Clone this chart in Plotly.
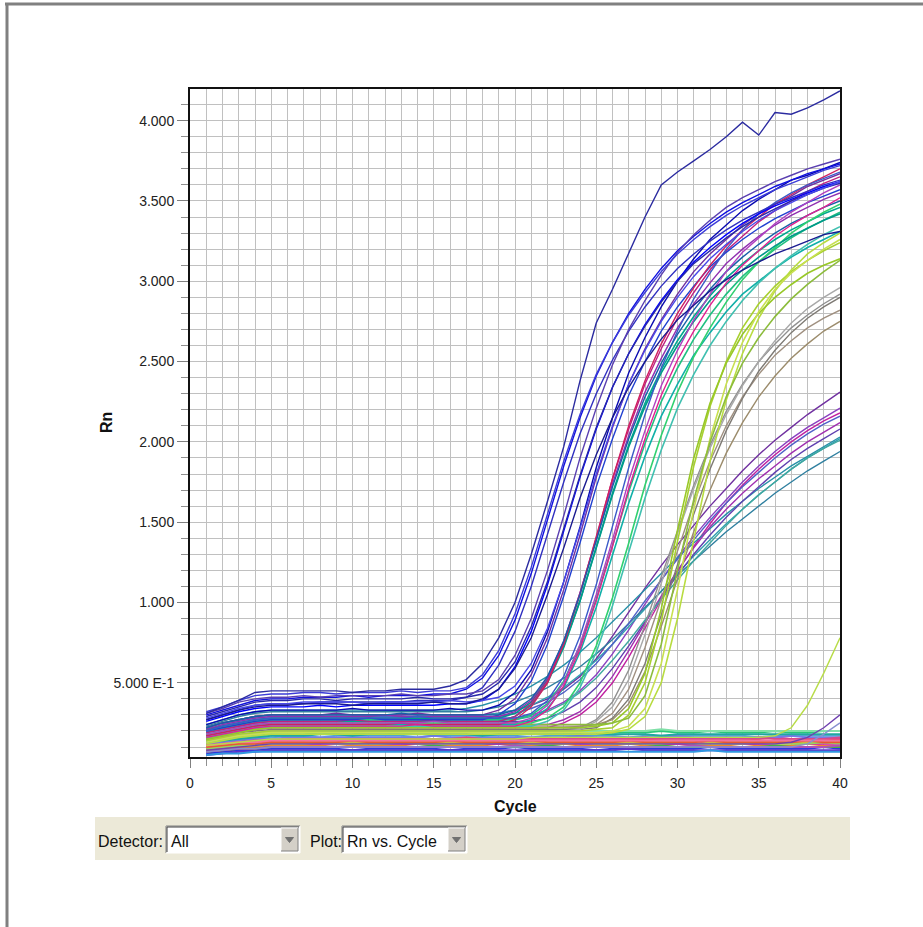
import plotly.graph_objects as go

# ---------------- data ----------------
CYCLES = [1, 2, 3, 4, 5, 6, 7, 8, 9, 10, 11, 12, 13, 14, 15, 16, 17, 18, 19, 20,
          21, 22, 23, 24, 25, 26, 27, 28, 29, 30, 31, 32, 33, 34, 35, 36, 37, 38, 39, 40]

X_TICKS = [0, 5, 10, 15, 20, 25, 30, 35, 40]
X_TICK_TEXT = ["0", "5", "10", "15", "20", "25", "30", "35", "40"]
Y_TICKS = [0.5, 1.0, 1.5, 2.0, 2.5, 3.0, 3.5, 4.0]
Y_TICK_TEXT = ["5.000 E-1", "1.000", "1.500", "2.000", "2.500", "3.000", "3.500", "4.000"]

OUTLIER_RN = [0.31, 0.35, 0.39, 0.44, 0.45, 0.45, 0.45, 0.45, 0.45, 0.44,
              0.45, 0.45, 0.46, 0.46, 0.46, 0.48, 0.52, 0.62, 0.78, 1.00,
              1.30, 1.63, 1.97, 2.38, 2.74, 2.95, 3.17, 3.40, 3.60, 3.68,
              3.75, 3.82, 3.90, 3.99, 3.91, 4.05, 4.04, 4.08, 4.13, 4.185]
OUTLIER_COLOR = "#2B2BA0"

EARLY_RN = [
    [0.30, 0.33, 0.36, 0.39, 0.40, 0.40, 0.41, 0.41, 0.41, 0.42, 0.41, 0.42, 0.42, 0.42, 0.43, 0.43, 0.46, 0.53, 0.67, 0.89,
     1.18, 1.51, 1.85, 2.15, 2.41, 2.62, 2.80, 2.95, 3.08, 3.19, 3.28, 3.36, 3.43, 3.49, 3.54, 3.59, 3.63, 3.67, 3.70, 3.73],
    [0.27, 0.30, 0.33, 0.36, 0.37, 0.37, 0.37, 0.38, 0.38, 0.38, 0.38, 0.38, 0.38, 0.39, 0.39, 0.39, 0.41, 0.47, 0.61, 0.82,
     1.10, 1.42, 1.75, 2.05, 2.30, 2.51, 2.69, 2.84, 2.97, 3.08, 3.17, 3.25, 3.32, 3.38, 3.43, 3.48, 3.52, 3.56, 3.60, 3.63],
    [0.31, 0.34, 0.38, 0.40, 0.41, 0.41, 0.42, 0.41, 0.42, 0.42, 0.42, 0.42, 0.43, 0.42, 0.42, 0.43, 0.43, 0.45, 0.52, 0.67,
     0.90, 1.20, 1.54, 1.90, 2.21, 2.48, 2.70, 2.88, 3.04, 3.18, 3.29, 3.38, 3.46, 3.52, 3.57, 3.62, 3.66, 3.70, 3.73, 3.76],
    [0.26, 0.29, 0.32, 0.34, 0.35, 0.35, 0.35, 0.36, 0.35, 0.36, 0.36, 0.36, 0.36, 0.36, 0.36, 0.37, 0.37, 0.39, 0.46, 0.60,
     0.82, 1.11, 1.44, 1.78, 2.08, 2.34, 2.55, 2.73, 2.88, 3.01, 3.12, 3.21, 3.29, 3.36, 3.42, 3.47, 3.51, 3.55, 3.59, 3.62],
    [0.29, 0.32, 0.35, 0.38, 0.39, 0.39, 0.40, 0.40, 0.39, 0.40, 0.40, 0.40, 0.40, 0.41, 0.40, 0.40, 0.41, 0.43, 0.50, 0.63,
     0.85, 1.13, 1.46, 1.79, 2.09, 2.34, 2.55, 2.72, 2.87, 3.00, 3.11, 3.19, 3.27, 3.34, 3.40, 3.45, 3.50, 3.54, 3.58, 3.61],
    [0.28, 0.31, 0.34, 0.36, 0.37, 0.37, 0.38, 0.38, 0.38, 0.38, 0.37, 0.38, 0.38, 0.38, 0.38, 0.39, 0.38, 0.39, 0.41, 0.48,
     0.62, 0.84, 1.13, 1.46, 1.80, 2.10, 2.36, 2.57, 2.75, 2.90, 3.03, 3.14, 3.23, 3.31, 3.38, 3.44, 3.49, 3.54, 3.58, 3.62],
    [0.27, 0.30, 0.33, 0.35, 0.36, 0.36, 0.37, 0.37, 0.37, 0.36, 0.37, 0.37, 0.37, 0.37, 0.38, 0.37, 0.37, 0.40, 0.46, 0.59,
     0.78, 1.05, 1.34, 1.65, 1.92, 2.15, 2.34, 2.50, 2.64, 2.76, 2.85, 2.94, 3.01, 3.07, 3.12, 3.17, 3.21, 3.25, 3.29, 3.31],
    [0.32, 0.35, 0.39, 0.42, 0.43, 0.43, 0.44, 0.44, 0.43, 0.44, 0.44, 0.44, 0.45, 0.44, 0.45, 0.45, 0.47, 0.55, 0.70, 0.93,
     1.22, 1.55, 1.88, 2.17, 2.42, 2.62, 2.79, 2.93, 3.06, 3.17, 3.26, 3.34, 3.41, 3.47, 3.52, 3.57, 3.61, 3.65, 3.69, 3.72],
]
EARLY_COLORS = ["#1010E0", "#3030C0", "#5A3FB0", "#0000FF", "#2828A8", "#4848E8", "#1A1A90", "#3C3CD8"]

MID_RN = [
    [0.22, 0.25, 0.27, 0.29, 0.30, 0.30, 0.30, 0.30, 0.31, 0.30, 0.30, 0.30, 0.30, 0.31, 0.30, 0.30, 0.30, 0.30, 0.33, 0.40,
     0.55, 0.78, 1.08, 1.42, 1.78, 2.09, 2.36, 2.58, 2.76, 2.92, 3.06, 3.17, 3.26, 3.35, 3.42, 3.48, 3.53, 3.59, 3.63, 3.67],
    [0.19, 0.21, 0.23, 0.25, 0.26, 0.26, 0.26, 0.26, 0.26, 0.27, 0.26, 0.26, 0.26, 0.26, 0.27, 0.26, 0.26, 0.26, 0.26, 0.29,
     0.37, 0.51, 0.75, 1.06, 1.40, 1.77, 2.08, 2.36, 2.58, 2.77, 2.93, 3.07, 3.19, 3.28, 3.37, 3.44, 3.50, 3.56, 3.61, 3.65],
    [0.20, 0.22, 0.24, 0.26, 0.27, 0.27, 0.27, 0.27, 0.27, 0.27, 0.28, 0.27, 0.27, 0.27, 0.27, 0.27, 0.27, 0.27, 0.30, 0.37,
     0.51, 0.74, 1.04, 1.37, 1.72, 2.02, 2.29, 2.50, 2.69, 2.84, 2.97, 3.09, 3.18, 3.26, 3.33, 3.39, 3.44, 3.49, 3.53, 3.57],
    [0.21, 0.24, 0.26, 0.28, 0.29, 0.29, 0.29, 0.29, 0.29, 0.29, 0.29, 0.30, 0.29, 0.29, 0.29, 0.29, 0.29, 0.29, 0.29, 0.32,
     0.39, 0.53, 0.76, 1.06, 1.39, 1.74, 2.04, 2.31, 2.52, 2.71, 2.86, 2.99, 3.11, 3.20, 3.28, 3.35, 3.41, 3.46, 3.51, 3.55],
    [0.17, 0.19, 0.21, 0.23, 0.24, 0.24, 0.24, 0.24, 0.24, 0.24, 0.24, 0.24, 0.25, 0.24, 0.24, 0.24, 0.24, 0.24, 0.24, 0.27,
     0.35, 0.50, 0.74, 1.05, 1.41, 1.77, 2.10, 2.38, 2.61, 2.80, 2.96, 3.10, 3.22, 3.32, 3.40, 3.48, 3.54, 3.60, 3.65, 3.70],
    [0.20, 0.23, 0.25, 0.27, 0.28, 0.28, 0.28, 0.28, 0.28, 0.28, 0.28, 0.28, 0.28, 0.29, 0.28, 0.28, 0.28, 0.28, 0.28, 0.28,
     0.31, 0.39, 0.54, 0.79, 1.11, 1.47, 1.84, 2.17, 2.46, 2.69, 2.89, 3.05, 3.20, 3.32, 3.42, 3.49, 3.55, 3.60, 3.64, 3.68],
    [0.22, 0.25, 0.27, 0.29, 0.30, 0.30, 0.30, 0.30, 0.30, 0.30, 0.30, 0.30, 0.31, 0.30, 0.30, 0.30, 0.30, 0.30, 0.30, 0.33,
     0.40, 0.54, 0.76, 1.05, 1.38, 1.72, 2.02, 2.28, 2.49, 2.67, 2.82, 2.95, 3.06, 3.15, 3.23, 3.30, 3.36, 3.41, 3.46, 3.50],
    [0.18, 0.20, 0.22, 0.24, 0.25, 0.25, 0.25, 0.25, 0.25, 0.25, 0.25, 0.25, 0.25, 0.25, 0.26, 0.25, 0.25, 0.25, 0.25, 0.25,
     0.28, 0.36, 0.50, 0.74, 1.05, 1.39, 1.76, 2.07, 2.35, 2.57, 2.76, 2.92, 3.06, 3.18, 3.27, 3.36, 3.43, 3.49, 3.55, 3.60],
    [0.24, 0.27, 0.30, 0.32, 0.33, 0.33, 0.33, 0.33, 0.33, 0.34, 0.33, 0.33, 0.33, 0.33, 0.33, 0.34, 0.33, 0.33, 0.36, 0.44,
     0.58, 0.82, 1.13, 1.47, 1.84, 2.15, 2.43, 2.65, 2.84, 3.00, 3.14, 3.26, 3.35, 3.44, 3.51, 3.57, 3.63, 3.66, 3.70, 3.74],
    [0.16, 0.18, 0.20, 0.22, 0.23, 0.23, 0.23, 0.23, 0.23, 0.23, 0.23, 0.23, 0.23, 0.24, 0.23, 0.23, 0.23, 0.23, 0.23, 0.23,
     0.26, 0.33, 0.48, 0.71, 1.01, 1.35, 1.71, 2.02, 2.29, 2.51, 2.69, 2.85, 2.99, 3.10, 3.19, 3.28, 3.35, 3.41, 3.46, 3.52],
]
MID_COLORS = ["#7030A0", "#C02080", "#2040D0", "#9030B0", "#D02060", "#3A5AC8", "#1860A8", "#B040C0", "#0A0AB0", "#E02090"]

TEAL_RN = [
    [0.19, 0.21, 0.23, 0.25, 0.26, 0.26, 0.26, 0.26, 0.26, 0.26, 0.26, 0.26, 0.26, 0.26, 0.26, 0.26, 0.26, 0.26, 0.26, 0.29,
     0.36, 0.50, 0.72, 1.01, 1.34, 1.68, 1.98, 2.24, 2.45, 2.63, 2.78, 2.91, 3.02, 3.11, 3.19, 3.26, 3.32, 3.37, 3.42, 3.46],
    [0.20, 0.22, 0.24, 0.26, 0.27, 0.27, 0.27, 0.27, 0.27, 0.27, 0.27, 0.27, 0.27, 0.27, 0.27, 0.27, 0.27, 0.27, 0.27, 0.27,
     0.30, 0.37, 0.51, 0.73, 1.02, 1.35, 1.69, 1.99, 2.25, 2.46, 2.64, 2.79, 2.92, 3.03, 3.12, 3.20, 3.27, 3.33, 3.38, 3.43],
    [0.17, 0.19, 0.21, 0.23, 0.24, 0.24, 0.24, 0.24, 0.24, 0.24, 0.24, 0.24, 0.24, 0.24, 0.24, 0.24, 0.24, 0.24, 0.24, 0.24,
     0.27, 0.34, 0.47, 0.69, 0.97, 1.29, 1.62, 1.91, 2.16, 2.36, 2.54, 2.68, 2.81, 2.92, 3.00, 3.08, 3.15, 3.21, 3.26, 3.31],
    [0.18, 0.20, 0.22, 0.24, 0.25, 0.25, 0.25, 0.25, 0.25, 0.25, 0.25, 0.25, 0.25, 0.25, 0.25, 0.25, 0.25, 0.25, 0.25, 0.25,
     0.25, 0.28, 0.35, 0.50, 0.73, 1.03, 1.37, 1.73, 2.04, 2.31, 2.53, 2.71, 2.87, 3.01, 3.12, 3.21, 3.30, 3.37, 3.43, 3.48],
    [0.21, 0.23, 0.25, 0.27, 0.28, 0.28, 0.28, 0.28, 0.28, 0.28, 0.28, 0.28, 0.28, 0.28, 0.28, 0.28, 0.28, 0.28, 0.28, 0.31,
     0.38, 0.52, 0.73, 1.01, 1.34, 1.67, 1.97, 2.22, 2.43, 2.60, 2.75, 2.88, 2.98, 3.07, 3.15, 3.22, 3.28, 3.33, 3.38, 3.42],
    [0.16, 0.18, 0.20, 0.22, 0.23, 0.23, 0.23, 0.23, 0.23, 0.23, 0.23, 0.23, 0.23, 0.23, 0.23, 0.23, 0.23, 0.23, 0.23, 0.23,
     0.23, 0.26, 0.33, 0.47, 0.69, 0.98, 1.31, 1.65, 1.95, 2.21, 2.42, 2.60, 2.75, 2.88, 2.99, 3.08, 3.16, 3.23, 3.29, 3.34],
]
TEAL_COLORS = ["#00A890", "#20C080", "#10B0A8", "#30D070", "#009A8A", "#40C0B0"]

YELLOW_RN = [
    [0.14, 0.16, 0.18, 0.19, 0.20, 0.20, 0.20, 0.20, 0.20, 0.20, 0.20, 0.20, 0.20, 0.20, 0.20, 0.20, 0.20, 0.20, 0.20, 0.20,
     0.20, 0.20, 0.20, 0.20, 0.21, 0.22, 0.30, 0.50, 0.88, 1.38, 1.85, 2.22, 2.50, 2.71, 2.86, 2.97, 3.06, 3.13, 3.19, 3.24],
    [0.12, 0.14, 0.16, 0.17, 0.18, 0.18, 0.18, 0.18, 0.18, 0.18, 0.18, 0.18, 0.18, 0.18, 0.18, 0.18, 0.18, 0.18, 0.18, 0.18,
     0.18, 0.18, 0.18, 0.18, 0.18, 0.19, 0.21, 0.29, 0.50, 0.90, 1.40, 1.88, 2.26, 2.55, 2.77, 2.94, 3.07, 3.17, 3.24, 3.30],
    [0.15, 0.17, 0.19, 0.21, 0.22, 0.22, 0.22, 0.22, 0.22, 0.22, 0.22, 0.22, 0.22, 0.22, 0.22, 0.22, 0.22, 0.22, 0.22, 0.22,
     0.22, 0.22, 0.22, 0.22, 0.23, 0.25, 0.34, 0.56, 0.96, 1.45, 1.90, 2.24, 2.49, 2.67, 2.80, 2.90, 2.98, 3.05, 3.10, 3.14],
    [0.13, 0.15, 0.17, 0.18, 0.19, 0.19, 0.19, 0.19, 0.19, 0.19, 0.19, 0.19, 0.19, 0.19, 0.19, 0.19, 0.19, 0.19, 0.19, 0.19,
     0.19, 0.19, 0.19, 0.19, 0.19, 0.20, 0.23, 0.34, 0.62, 1.08, 1.58, 2.02, 2.36, 2.62, 2.81, 2.95, 3.05, 3.13, 3.20, 3.26],
    [0.17, 0.19, 0.21, 0.23, 0.24, 0.24, 0.24, 0.24, 0.24, 0.24, 0.24, 0.24, 0.24, 0.24, 0.24, 0.24, 0.24, 0.24, 0.24, 0.24,
     0.24, 0.24, 0.24, 0.24, 0.24, 0.25, 0.28, 0.42, 0.74, 1.20, 1.64, 2.00, 2.28, 2.49, 2.65, 2.78, 2.89, 2.98, 3.06, 3.13],
]
YELLOW_COLORS = ["#A8D030", "#B8DC40", "#98C828", "#C8E050", "#8CBC3C"]

GRAY_RN = [
    [0.14, 0.16, 0.18, 0.19, 0.20, 0.20, 0.20, 0.20, 0.20, 0.20, 0.20, 0.20, 0.20, 0.20, 0.20, 0.20, 0.20, 0.20, 0.20, 0.20,
     0.20, 0.20, 0.21, 0.22, 0.27, 0.38, 0.58, 0.86, 1.16, 1.45, 1.73, 1.98, 2.19, 2.36, 2.50, 2.61, 2.71, 2.79, 2.86, 2.92],
    [0.15, 0.17, 0.19, 0.21, 0.22, 0.22, 0.22, 0.22, 0.22, 0.22, 0.22, 0.22, 0.22, 0.22, 0.22, 0.22, 0.22, 0.22, 0.22, 0.22,
     0.22, 0.22, 0.22, 0.23, 0.24, 0.31, 0.46, 0.72, 1.02, 1.33, 1.62, 1.88, 2.10, 2.28, 2.42, 2.54, 2.63, 2.71, 2.77, 2.82],
    [0.15, 0.17, 0.19, 0.20, 0.21, 0.21, 0.21, 0.21, 0.21, 0.21, 0.21, 0.21, 0.21, 0.21, 0.21, 0.21, 0.21, 0.21, 0.21, 0.21,
     0.21, 0.21, 0.21, 0.21, 0.22, 0.28, 0.40, 0.62, 0.92, 1.24, 1.55, 1.83, 2.07, 2.27, 2.44, 2.57, 2.68, 2.77, 2.84, 2.90],
    [0.13, 0.15, 0.17, 0.18, 0.19, 0.19, 0.19, 0.19, 0.19, 0.19, 0.19, 0.19, 0.19, 0.19, 0.19, 0.19, 0.19, 0.19, 0.19, 0.19,
     0.19, 0.19, 0.20, 0.21, 0.26, 0.35, 0.52, 0.80, 1.12, 1.43, 1.71, 1.96, 2.17, 2.35, 2.50, 2.63, 2.74, 2.83, 2.90, 2.96],
    [0.16, 0.18, 0.20, 0.22, 0.23, 0.23, 0.23, 0.23, 0.23, 0.23, 0.23, 0.23, 0.23, 0.23, 0.23, 0.23, 0.23, 0.23, 0.23, 0.23,
     0.23, 0.23, 0.23, 0.23, 0.24, 0.27, 0.37, 0.57, 0.85, 1.15, 1.44, 1.70, 1.93, 2.12, 2.28, 2.41, 2.52, 2.61, 2.69, 2.75],
]
GRAY_COLORS = ["#909090", "#A09080", "#7E7A74", "#A8A8A8", "#9C8C6C"]

SLOW_RN = [
    [0.22, 0.25, 0.27, 0.29, 0.30, 0.30, 0.30, 0.30, 0.30, 0.30, 0.30, 0.30, 0.30, 0.30, 0.30, 0.30, 0.30, 0.30, 0.31, 0.33,
     0.36, 0.40, 0.46, 0.54, 0.65, 0.79, 0.94, 1.09, 1.23, 1.36, 1.48, 1.60, 1.71, 1.82, 1.92, 2.01, 2.09, 2.17, 2.24, 2.31],
    [0.20, 0.23, 0.25, 0.27, 0.28, 0.28, 0.28, 0.28, 0.28, 0.28, 0.28, 0.28, 0.28, 0.28, 0.28, 0.28, 0.28, 0.28, 0.28, 0.28,
     0.30, 0.33, 0.38, 0.45, 0.55, 0.68, 0.83, 0.99, 1.14, 1.28, 1.41, 1.53, 1.64, 1.75, 1.85, 1.94, 2.02, 2.09, 2.15, 2.21],
    [0.15, 0.17, 0.19, 0.21, 0.22, 0.22, 0.22, 0.22, 0.22, 0.22, 0.22, 0.22, 0.22, 0.22, 0.22, 0.22, 0.22, 0.22, 0.22, 0.22,
     0.22, 0.22, 0.25, 0.30, 0.38, 0.50, 0.66, 0.84, 1.02, 1.19, 1.35, 1.49, 1.62, 1.73, 1.83, 1.92, 2.00, 2.07, 2.13, 2.18],
    [0.24, 0.27, 0.30, 0.32, 0.33, 0.33, 0.33, 0.33, 0.33, 0.33, 0.33, 0.33, 0.33, 0.33, 0.33, 0.33, 0.34, 0.36, 0.39, 0.43,
     0.48, 0.54, 0.61, 0.69, 0.78, 0.88, 0.98, 1.08, 1.18, 1.28, 1.37, 1.46, 1.55, 1.63, 1.71, 1.78, 1.85, 1.91, 1.97, 2.03],
    [0.22, 0.25, 0.27, 0.29, 0.30, 0.30, 0.30, 0.30, 0.30, 0.30, 0.30, 0.30, 0.30, 0.30, 0.30, 0.30, 0.30, 0.30, 0.31, 0.33,
     0.36, 0.41, 0.47, 0.55, 0.64, 0.74, 0.85, 0.96, 1.07, 1.18, 1.29, 1.39, 1.49, 1.58, 1.67, 1.75, 1.83, 1.90, 1.96, 2.02],
    [0.19, 0.21, 0.23, 0.25, 0.26, 0.26, 0.26, 0.26, 0.26, 0.26, 0.26, 0.26, 0.26, 0.26, 0.26, 0.26, 0.26, 0.26, 0.26, 0.26,
     0.26, 0.28, 0.32, 0.38, 0.47, 0.59, 0.73, 0.88, 1.03, 1.17, 1.30, 1.42, 1.53, 1.63, 1.72, 1.81, 1.89, 1.96, 2.02, 2.08],
    [0.23, 0.26, 0.29, 0.31, 0.32, 0.32, 0.32, 0.32, 0.32, 0.32, 0.32, 0.32, 0.32, 0.32, 0.32, 0.32, 0.32, 0.33, 0.35, 0.38,
     0.42, 0.47, 0.53, 0.60, 0.68, 0.77, 0.87, 0.97, 1.07, 1.17, 1.26, 1.35, 1.44, 1.52, 1.60, 1.68, 1.75, 1.82, 1.88, 1.94],
    [0.17, 0.19, 0.21, 0.23, 0.24, 0.24, 0.24, 0.24, 0.24, 0.24, 0.24, 0.24, 0.24, 0.24, 0.24, 0.24, 0.24, 0.24, 0.24, 0.24,
     0.24, 0.24, 0.27, 0.32, 0.41, 0.54, 0.70, 0.87, 1.04, 1.20, 1.34, 1.47, 1.58, 1.68, 1.77, 1.85, 1.93, 2.00, 2.06, 2.12],
    [0.20, 0.22, 0.24, 0.26, 0.27, 0.27, 0.27, 0.27, 0.27, 0.27, 0.27, 0.27, 0.27, 0.27, 0.27, 0.27, 0.27, 0.27, 0.27, 0.27,
     0.29, 0.32, 0.37, 0.44, 0.53, 0.64, 0.76, 0.89, 1.02, 1.14, 1.26, 1.37, 1.48, 1.58, 1.67, 1.75, 1.83, 1.90, 1.96, 2.01],
    [0.21, 0.24, 0.26, 0.28, 0.29, 0.29, 0.29, 0.29, 0.29, 0.29, 0.29, 0.29, 0.29, 0.29, 0.29, 0.29, 0.29, 0.29, 0.29, 0.31,
     0.34, 0.38, 0.44, 0.52, 0.62, 0.74, 0.87, 1.01, 1.14, 1.27, 1.39, 1.51, 1.62, 1.72, 1.81, 1.90, 1.98, 2.05, 2.11, 2.16],
]
SLOW_COLORS = ["#7030A0", "#8A40C0", "#C020A0", "#2890A8", "#30A0B0", "#6040B0", "#3080A0", "#A030B0", "#40A8A0", "#5060C8"]

FLAT_RN = [
    [0.11, 0.12, 0.13, 0.13, 0.14, 0.14, 0.14, 0.15, 0.14, 0.14, 0.15, 0.15, 0.14, 0.15, 0.15, 0.15, 0.14, 0.15, 0.15, 0.15,
     0.15, 0.16, 0.15, 0.15, 0.15, 0.16, 0.15, 0.15, 0.15, 0.16, 0.15, 0.15, 0.16, 0.15, 0.15, 0.16, 0.15, 0.15, 0.15, 0.15],
    [0.08, 0.09, 0.10, 0.10, 0.11, 0.11, 0.11, 0.11, 0.10, 0.11, 0.11, 0.11, 0.11, 0.12, 0.11, 0.11, 0.11, 0.11, 0.12, 0.11,
     0.11, 0.11, 0.12, 0.11, 0.11, 0.11, 0.12, 0.11, 0.11, 0.12, 0.11, 0.11, 0.11, 0.12, 0.11, 0.11, 0.11, 0.12, 0.11, 0.11],
    [0.06, 0.07, 0.08, 0.08, 0.09, 0.09, 0.09, 0.09, 0.09, 0.08, 0.09, 0.09, 0.09, 0.09, 0.09, 0.08, 0.09, 0.09, 0.09, 0.10,
     0.09, 0.09, 0.09, 0.09, 0.08, 0.09, 0.09, 0.09, 0.09, 0.09, 0.09, 0.10, 0.09, 0.09, 0.09, 0.09, 0.09, 0.09, 0.10, 0.09],
    [0.14, 0.15, 0.16, 0.17, 0.18, 0.18, 0.18, 0.19, 0.18, 0.18, 0.19, 0.19, 0.18, 0.19, 0.19, 0.19, 0.19, 0.19, 0.19, 0.19,
     0.19, 0.19, 0.19, 0.19, 0.20, 0.19, 0.19, 0.19, 0.20, 0.19, 0.19, 0.20, 0.19, 0.19, 0.19, 0.20, 0.19, 0.19, 0.20, 0.20],
    [0.09, 0.10, 0.11, 0.11, 0.12, 0.12, 0.12, 0.12, 0.12, 0.12, 0.13, 0.12, 0.12, 0.12, 0.12, 0.13, 0.12, 0.12, 0.12, 0.13,
     0.12, 0.12, 0.13, 0.12, 0.12, 0.12, 0.12, 0.13, 0.12, 0.12, 0.12, 0.13, 0.12, 0.12, 0.12, 0.12, 0.13, 0.12, 0.12, 0.12],
    [0.13, 0.14, 0.15, 0.16, 0.16, 0.17, 0.17, 0.16, 0.17, 0.17, 0.17, 0.17, 0.17, 0.16, 0.17, 0.17, 0.17, 0.17, 0.17, 0.17,
     0.16, 0.17, 0.17, 0.17, 0.17, 0.17, 0.16, 0.17, 0.17, 0.17, 0.17, 0.17, 0.17, 0.17, 0.16, 0.17, 0.17, 0.17, 0.17, 0.17],
    [0.10, 0.11, 0.12, 0.12, 0.13, 0.13, 0.13, 0.13, 0.13, 0.13, 0.13, 0.13, 0.14, 0.13, 0.13, 0.13, 0.13, 0.13, 0.14, 0.13,
     0.13, 0.13, 0.13, 0.13, 0.14, 0.13, 0.13, 0.13, 0.13, 0.13, 0.14, 0.13, 0.13, 0.13, 0.13, 0.14, 0.13, 0.13, 0.13, 0.13],
    [0.12, 0.13, 0.14, 0.15, 0.15, 0.16, 0.16, 0.16, 0.16, 0.16, 0.16, 0.16, 0.16, 0.16, 0.17, 0.16, 0.16, 0.16, 0.16, 0.16,
     0.16, 0.16, 0.16, 0.17, 0.16, 0.16, 0.16, 0.16, 0.16, 0.17, 0.16, 0.16, 0.16, 0.16, 0.16, 0.16, 0.17, 0.16, 0.16, 0.16],
    [0.07, 0.08, 0.09, 0.09, 0.10, 0.10, 0.10, 0.10, 0.10, 0.10, 0.10, 0.10, 0.10, 0.10, 0.11, 0.10, 0.10, 0.10, 0.10, 0.10,
     0.10, 0.11, 0.10, 0.10, 0.10, 0.10, 0.10, 0.10, 0.11, 0.10, 0.10, 0.10, 0.10, 0.10, 0.10, 0.11, 0.10, 0.10, 0.10, 0.10],
    [0.11, 0.12, 0.13, 0.14, 0.14, 0.15, 0.15, 0.15, 0.15, 0.15, 0.15, 0.15, 0.15, 0.15, 0.15, 0.15, 0.16, 0.15, 0.15, 0.15,
     0.15, 0.15, 0.15, 0.15, 0.15, 0.15, 0.15, 0.16, 0.15, 0.15, 0.15, 0.15, 0.15, 0.15, 0.16, 0.15, 0.15, 0.15, 0.15, 0.16],
    [0.05, 0.06, 0.07, 0.07, 0.08, 0.08, 0.08, 0.08, 0.08, 0.08, 0.08, 0.08, 0.08, 0.08, 0.08, 0.08, 0.08, 0.08, 0.08, 0.08,
     0.08, 0.08, 0.08, 0.08, 0.08, 0.08, 0.09, 0.08, 0.08, 0.08, 0.08, 0.08, 0.08, 0.08, 0.08, 0.08, 0.08, 0.08, 0.08, 0.08],
    [0.09, 0.10, 0.11, 0.11, 0.12, 0.12, 0.12, 0.13, 0.12, 0.12, 0.12, 0.12, 0.13, 0.12, 0.12, 0.12, 0.12, 0.12, 0.13, 0.12,
     0.12, 0.12, 0.12, 0.13, 0.12, 0.12, 0.12, 0.12, 0.12, 0.13, 0.12, 0.12, 0.12, 0.12, 0.13, 0.12, 0.12, 0.12, 0.13, 0.12],
    [0.05, 0.06, 0.06, 0.07, 0.07, 0.07, 0.07, 0.07, 0.07, 0.07, 0.07, 0.07, 0.07, 0.07, 0.07, 0.07, 0.07, 0.07, 0.07, 0.07,
     0.07, 0.07, 0.07, 0.07, 0.07, 0.07, 0.07, 0.07, 0.07, 0.07, 0.07, 0.08, 0.07, 0.07, 0.07, 0.07, 0.07, 0.07, 0.07, 0.07],
    [0.10, 0.11, 0.12, 0.12, 0.13, 0.13, 0.13, 0.13, 0.13, 0.14, 0.13, 0.13, 0.13, 0.13, 0.13, 0.14, 0.13, 0.13, 0.13, 0.13,
     0.14, 0.13, 0.13, 0.13, 0.13, 0.13, 0.14, 0.13, 0.13, 0.13, 0.13, 0.14, 0.13, 0.13, 0.13, 0.13, 0.13, 0.14, 0.13, 0.13],
    [0.13, 0.14, 0.15, 0.16, 0.17, 0.17, 0.17, 0.18, 0.18, 0.17, 0.18, 0.18, 0.18, 0.18, 0.18, 0.18, 0.18, 0.17, 0.18, 0.18,
     0.18, 0.18, 0.18, 0.18, 0.18, 0.18, 0.18, 0.18, 0.17, 0.18, 0.18, 0.18, 0.18, 0.18, 0.18, 0.18, 0.18, 0.18, 0.18, 0.18],
    [0.07, 0.08, 0.09, 0.09, 0.10, 0.10, 0.10, 0.10, 0.10, 0.10, 0.10, 0.10, 0.10, 0.10, 0.10, 0.10, 0.10, 0.10, 0.10, 0.11,
     0.10, 0.10, 0.10, 0.10, 0.10, 0.10, 0.10, 0.10, 0.10, 0.10, 0.11, 0.10, 0.10, 0.10, 0.10, 0.10, 0.10, 0.10, 0.10, 0.11],
    [0.11, 0.12, 0.13, 0.13, 0.14, 0.14, 0.14, 0.14, 0.14, 0.14, 0.14, 0.14, 0.14, 0.14, 0.14, 0.14, 0.14, 0.14, 0.14, 0.14,
     0.14, 0.14, 0.14, 0.14, 0.14, 0.14, 0.14, 0.14, 0.14, 0.14, 0.14, 0.14, 0.14, 0.14, 0.14, 0.14, 0.14, 0.14, 0.14, 0.14],
    [0.15, 0.16, 0.17, 0.18, 0.19, 0.19, 0.19, 0.20, 0.20, 0.20, 0.20, 0.20, 0.20, 0.20, 0.20, 0.20, 0.20, 0.20, 0.20, 0.20,
     0.20, 0.20, 0.20, 0.20, 0.20, 0.20, 0.20, 0.20, 0.21, 0.20, 0.20, 0.20, 0.20, 0.20, 0.20, 0.20, 0.20, 0.20, 0.20, 0.20],
]
FLAT_COLORS = ["#E8305A", "#F08A28", "#2838E0", "#28C878", "#D020C0", "#5AA8D8", "#E0A838", "#7878E8", "#48B040",
               "#D84888", "#6030C8", "#98D060", "#3098E0", "#E85830", "#20A8A0", "#B050B8", "#F070A0", "#80E0A8"]

LATE_RN = [
    [0.11, 0.12, 0.13, 0.14, 0.15, 0.15, 0.15, 0.15, 0.15, 0.15, 0.15, 0.15, 0.15, 0.15, 0.15, 0.15, 0.15, 0.15, 0.15, 0.15,
     0.16, 0.16, 0.16, 0.16, 0.16, 0.16, 0.16, 0.16, 0.16, 0.16, 0.16, 0.16, 0.16, 0.16, 0.16, 0.17, 0.22, 0.36, 0.56, 0.78],
    [0.08, 0.09, 0.10, 0.11, 0.12, 0.12, 0.12, 0.12, 0.12, 0.12, 0.12, 0.12, 0.12, 0.12, 0.12, 0.12, 0.12, 0.12, 0.12, 0.12,
     0.12, 0.12, 0.12, 0.12, 0.12, 0.12, 0.12, 0.12, 0.12, 0.12, 0.12, 0.12, 0.12, 0.12, 0.12, 0.12, 0.13, 0.16, 0.22, 0.30],
    [0.07, 0.08, 0.09, 0.09, 0.10, 0.10, 0.10, 0.10, 0.10, 0.10, 0.10, 0.10, 0.10, 0.10, 0.10, 0.10, 0.10, 0.10, 0.10, 0.10,
     0.10, 0.10, 0.10, 0.10, 0.10, 0.10, 0.10, 0.10, 0.10, 0.10, 0.10, 0.10, 0.10, 0.10, 0.10, 0.10, 0.10, 0.12, 0.18, 0.25],
]
LATE_COLORS = ["#B8DC48", "#7040B0", "#8890D0"]

# ---------------- geometry helpers (pixel -> paper coords) ----------------
PLOT_L, PLOT_R, PLOT_T, PLOT_B = 190, 840, 89, 757
W, H = 923, 927


def px(xp):
    return (xp - PLOT_L) / (PLOT_R - PLOT_L)


def py(yp):
    return (PLOT_B - yp) / (PLOT_B - PLOT_T)


fig = go.Figure()


def add_group(curves, colors, width):
    for vals, col in zip(curves, colors):
        fig.add_trace(go.Scatter(x=CYCLES[:len(vals)], y=vals, mode="lines",
                                 line=dict(color=col, width=width),
                                 hoverinfo="skip", showlegend=False))


add_group(FLAT_RN, FLAT_COLORS, 2.0)
add_group(LATE_RN, LATE_COLORS, 1.4)
add_group(SLOW_RN, SLOW_COLORS, 1.4)
add_group(GRAY_RN, GRAY_COLORS, 1.4)
add_group(YELLOW_RN, YELLOW_COLORS, 1.6)
add_group(TEAL_RN, TEAL_COLORS, 1.6)
add_group(MID_RN, MID_COLORS, 1.4)
add_group(EARLY_RN, EARLY_COLORS, 1.4)
add_group([OUTLIER_RN], [OUTLIER_COLOR], 1.4)

GRID = "#C0C0C0"
TICKFONT = dict(family="Liberation Sans, Arial, sans-serif", size=14, color="#222222")

fig.update_layout(
    width=W, height=H,
    margin=dict(l=PLOT_L, r=W - PLOT_R, t=PLOT_T, b=H - PLOT_B),
    paper_bgcolor="white", plot_bgcolor="white",
    showlegend=False,
    xaxis=dict(range=[0, 40], tickmode="array", tickvals=X_TICKS, ticktext=X_TICK_TEXT,
               showgrid=True, gridcolor=GRID, gridwidth=1, zeroline=False,
               ticks="outside", ticklen=9, tickcolor="#808080", tickwidth=1,
               showline=True, linecolor="#111111", linewidth=2, mirror=True,
               tickfont=TICKFONT, ticklabelstandoff=3,
               minor=dict(tickmode="linear", tick0=0, dtick=1, showgrid=True, gridcolor=GRID,
                          gridwidth=1, ticks="outside", ticklen=7, tickcolor="#909090")),
    yaxis=dict(range=[0.038, 4.197], tickmode="array", tickvals=Y_TICKS, ticktext=Y_TICK_TEXT,
               showgrid=True, gridcolor=GRID, gridwidth=1, zeroline=False,
               ticks="outside", ticklen=11, tickcolor="#808080", tickwidth=1,
               showline=True, linecolor="#111111", linewidth=2, mirror=True,
               tickfont=TICKFONT, ticklabelstandoff=0,
               minor=dict(tickmode="linear", tick0=0, dtick=0.1, showgrid=True, gridcolor=GRID,
                          gridwidth=1, ticks="outside", ticklen=7, tickcolor="#909090")),
)

shapes = []
annotations = []

# outer window frame (top and left edges)
shapes.append(dict(type="line", xref="paper", yref="paper", x0=px(5), x1=px(923), y0=py(4), y1=py(4),
                   line=dict(color="#808080", width=3)))
shapes.append(dict(type="line", xref="paper", yref="paper", x0=px(7), x1=px(7), y0=py(3), y1=py(927),
                   line=dict(color="#808080", width=3)))

# toolbar strip
shapes.append(dict(type="rect", xref="paper", yref="paper", x0=px(95), x1=px(850), y0=py(860), y1=py(817),
                   fillcolor="#ECE9D8", line=dict(width=0), layer="below"))


def combo(x0, x1, y0, y1):
    shapes.append(dict(type="rect", xref="paper", yref="paper", x0=px(x0), x1=px(x1), y0=py(y1), y1=py(y0),
                       fillcolor="white", line=dict(width=0)))
    for (a, b, c, d, col) in [(x0, y0, x1, y0, "#808080"), (x0, y0, x0, y1, "#808080"),
                              (x0 + 1, y0 + 1, x1 - 1, y0 + 1, "#404040"), (x0 + 1, y0 + 1, x0 + 1, y1 - 1, "#404040"),
                              (x0, y1, x1, y1, "#FFFFFF"), (x1, y0, x1, y1, "#FFFFFF")]:
        shapes.append(dict(type="line", xref="paper", yref="paper", x0=px(a), y0=py(b), x1=px(c), y1=py(d),
                           line=dict(color=col, width=1)))
    bx0, bx1, by0, by1 = x1 - 19, x1 - 2, y0 + 2, y1 - 2
    shapes.append(dict(type="rect", xref="paper", yref="paper", x0=px(bx0), x1=px(bx1), y0=py(by1), y1=py(by0),
                       fillcolor="#D4D0C8", line=dict(width=0)))
    for (a, b, c, d, col) in [(bx0, by0, bx1, by0, "#FFFFFF"), (bx0, by0, bx0, by1, "#FFFFFF"),
                              (bx0, by1, bx1, by1, "#808080"), (bx1, by0, bx1, by1, "#808080")]:
        shapes.append(dict(type="line", xref="paper", yref="paper", x0=px(a), y0=py(b), x1=px(c), y1=py(d),
                           line=dict(color=col, width=1)))
    cx, cy = (bx0 + bx1) / 2, (by0 + by1) / 2
    path = "M {} {} L {} {} L {} {} Z".format(px(cx - 4), py(cy - 2), px(cx + 4), py(cy - 2), px(cx), py(cy + 3))
    shapes.append(dict(type="path", xref="paper", yref="paper", path=path,
                       fillcolor="#707070", line=dict(color="#707070", width=1)))


combo(166, 300, 826, 853)
combo(342, 467, 826, 853)

UIFONT = dict(family="Liberation Sans, Arial, sans-serif", size=16, color="#111111")
for txt, x in [("Detector:", 96), ("All", 169), ("Plot:", 308), ("Rn vs. Cycle", 345)]:
    annotations.append(dict(text=txt, xref="paper", yref="paper", x=px(x), y=py(841),
                            xanchor="left", yanchor="middle", showarrow=False, font=UIFONT))

TITLEFONT = dict(family="Liberation Sans, Arial, sans-serif", size=16, color="#111111")
annotations.append(dict(text="<b>Cycle</b>", xref="paper", yref="paper", x=px(515), y=py(806),
                        xanchor="center", yanchor="middle", showarrow=False, font=TITLEFONT))
annotations.append(dict(text="<b>Rn</b>", xref="paper", yref="paper", x=px(106), y=py(423),
                        xanchor="center", yanchor="middle", showarrow=False, textangle=-90, font=TITLEFONT))

fig.update_layout(shapes=shapes, annotations=annotations)

# place the figure at the top-left corner of the page (no default body margin)
fig.write_html("out.html", config={"displayModeBar": False},
               post_script="document.body.style.margin='0px';")
